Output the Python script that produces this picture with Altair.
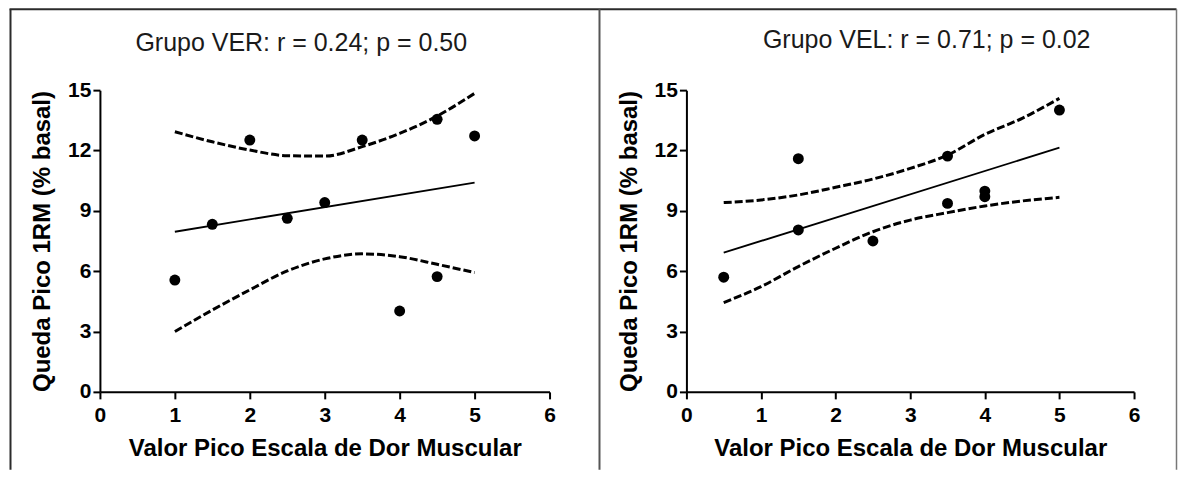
import altair as alt
import pandas as pd

# ---- Grupo VER ----
ver_x = [1, 1.5, 2, 2.5, 3, 3.5, 4, 4.5, 4.5, 5]
ver_y = [5.56, 8.33, 12.52, 8.63, 9.41, 12.52, 4.02, 5.73, 13.55, 12.72]
ver_fit_x = [1, 5]
ver_fit_y = [7.96, 10.40]
ver_band_x = [1, 1.5, 2, 2.5, 3, 3.5, 4, 4.5, 5]
ver_upper = [12.93, 12.43, 12.02, 11.74, 11.72, 12.19, 12.85, 13.71, 14.84]
ver_lower = [3.00, 4.07, 5.07, 6.01, 6.61, 6.86, 6.72, 6.34, 5.93]

# ---- Grupo VEL ----
vel_x = [0.5, 1.5, 1.5, 2.5, 3.5, 3.5, 4, 4, 5]
vel_y = [5.70, 11.59, 8.05, 7.50, 11.72, 9.37, 9.98, 9.70, 14.01]
vel_fit_x = [0.5, 5]
vel_fit_y = [6.92, 12.14]
vel_band_x = [0.5, 1, 1.5, 2, 2.5, 3, 3.5, 4, 4.5, 5]
vel_upper = [9.41, 9.54, 9.79, 10.17, 10.58, 11.11, 11.77, 12.80, 13.60, 14.59]
vel_lower = [4.44, 5.23, 6.23, 7.14, 7.96, 8.54, 8.91, 9.24, 9.49, 9.67]

titles = ["Grupo VER: r = 0.24; p = 0.50", "Grupo VEL: r = 0.71; p = 0.02"]
x_title = "Valor Pico Escala de Dor Muscular"
y_title = "Queda Pico 1RM (% basal)"
x_ticks = [0, 1, 2, 3, 4, 5, 6]
y_ticks = [0, 3, 6, 9, 12, 15]

FONT = "Liberation Sans"
H = 302


def enc():
    x = alt.X("x:Q", scale=alt.Scale(domain=[0, 6], nice=False, zero=False),
              axis=alt.Axis(values=x_ticks, title=x_title, labelFlush=False,
                            labelOverlap=False, labelPadding=6, titlePadding=11))
    y = alt.Y("y:Q", scale=alt.Scale(domain=[0, 15], nice=False, zero=False),
              axis=alt.Axis(values=y_ticks, title=y_title, labelFlush=False,
                            labelOverlap=False, labelPadding=2, titlePadding=13))
    return x, y


def panel(title, tx, ty, px, py, fx, fy, bx, bu, bl, width, rules):
    x, y = enc()
    pts = alt.Chart(pd.DataFrame({"x": px, "y": py})).mark_point(
        filled=True, shape="circle", size=120, color="black", opacity=1
    ).encode(x=x, y=y)
    fit = alt.Chart(pd.DataFrame({"x": fx, "y": fy})).mark_line(
        color="black", strokeWidth=1.8
    ).encode(x=x, y=y)
    up = alt.Chart(pd.DataFrame({"x": bx, "y": bu})).mark_line(
        color="black", strokeWidth=3, strokeDash=[8, 3], interpolate="monotone"
    ).encode(x=x, y=y)
    lo = alt.Chart(pd.DataFrame({"x": bx, "y": bl})).mark_line(
        color="black", strokeWidth=3, strokeDash=[8, 3], interpolate="monotone"
    ).encode(x=x, y=y)
    ttl = alt.Chart(alt.Data(values=[{}])).mark_text(
        font=FONT, fontSize=25, fontWeight="normal", color="#1a1a1a",
        align="center", baseline="middle"
    ).encode(x=alt.value(tx), y=alt.value(ty), text=alt.value(title))
    layers = [up, lo, fit, pts, ttl] + rules
    return alt.layer(*layers).properties(width=width, height=H)


def vrule(xpos, color, w):
    return alt.Chart(alt.Data(values=[{}])).mark_rule(color=color, strokeWidth=w).encode(
        x=alt.value(xpos), y=alt.value(-81), y2=alt.value(380))


def hrule(x1, x2, color, w):
    return alt.Chart(alt.Data(values=[{}])).mark_rule(color=color, strokeWidth=w).encode(
        x=alt.value(x1), x2=alt.value(x2), y=alt.value(-81))


left_rules = [
    hrule(-90.5, 1077.5, "#2b2b2b", 2),
    vrule(-89.5, "#2b2b2b", 2),
    vrule(500, "#555555", 2),
]
right_rules = [
    vrule(490.5, "#777777", 1.5),
]

left = panel(titles[0], 201.5, -47, ver_x, ver_y, ver_fit_x, ver_fit_y,
             ver_band_x, ver_upper, ver_lower, 450, left_rules)
right = panel(titles[1], 240.5, -50, vel_x, vel_y, vel_fit_x, vel_fit_y,
              vel_band_x, vel_upper, vel_lower, 448, right_rules)

chart = alt.hconcat(left, right, spacing=137, bounds="flush").properties(
    padding=0, background="white"
).configure_view(stroke=None).configure_axis(
    grid=False,
    domainColor="black", domainWidth=2,
    tickColor="black", tickWidth=2, tickSize=7,
    labelFont=FONT, labelFontSize=21, labelFontWeight="bold", labelColor="black",
    titleFont=FONT, titleFontSize=24, titleFontWeight="bold", titleColor="black",
)

chart.save("out.html", embed_options={"renderer": "svg", "actions": False})
